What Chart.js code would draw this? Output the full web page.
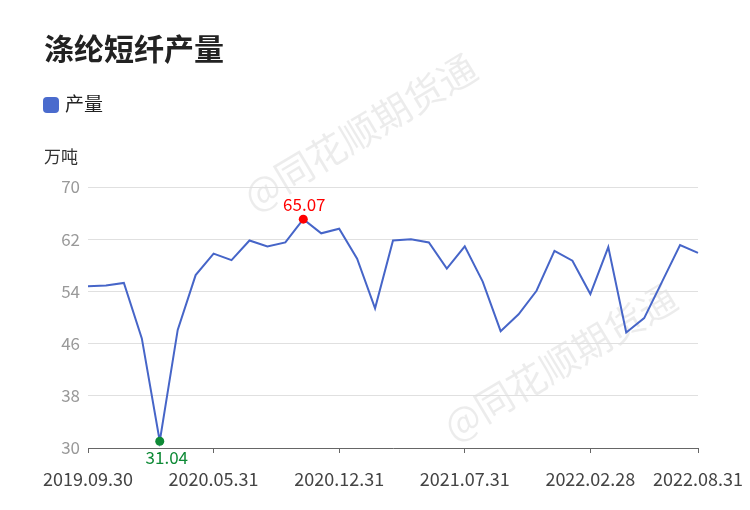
<!DOCTYPE html>
<html>
<head>
<meta charset="utf-8">
<script src="https://cdn.jsdelivr.net/npm/chart.js@4"></script>
<style>
  body { margin: 0; background: #fff; font-family: "Noto Sans CJK SC", "Noto Sans", sans-serif; }
  #wrap { position: relative; width: 750px; height: 510px; }
  #myChart { position: absolute; left: 0; top: 0; }
  .title { position: absolute; left: 44px; top: 27px; font-size: 30px; font-weight: bold; color: #222; line-height: 40px; }
  .legend { position: absolute; left: 43px; top: 90px; font-size: 19px; color: #222; line-height: 26px; }
  .legend i { display: inline-block; width: 16px; height: 16px; border-radius: 4px; background: #4a6bcd; vertical-align: -2px; margin-right: 6px; }
  .unit { position: absolute; left: 44px; top: 144px; font-size: 17px; color: #333; line-height: 24px; }
</style>
</head>
<body>
<div id="wrap">
  <canvas id="myChart" width="750" height="510"></canvas>
  <div class="title">涤纶短纤产量</div>
  <div class="legend"><i></i>产量</div>
  <div class="unit">万吨</div>
</div>
<script>
// months (2020.01 is merged into 2020.02)
const dates = [
  '2019.09.30','2019.10.31','2019.11.30','2019.12.31',
  '2020.02.29','2020.03.31','2020.04.30','2020.05.31','2020.06.30','2020.07.31','2020.08.31',
  '2020.09.30','2020.10.31','2020.11.30','2020.12.31',
  '2021.01.31','2021.02.28','2021.03.31','2021.04.30','2021.05.31','2021.06.30','2021.07.31',
  '2021.08.31','2021.09.30','2021.10.31','2021.11.30','2021.12.31',
  '2022.01.31','2022.02.28','2022.03.31','2022.04.30','2022.05.31','2022.06.30','2022.07.31','2022.08.31'
];
const output = [
  54.8, 54.9, 55.3, 46.8,
  31.04, 48.1, 56.5, 59.8, 58.8, 61.8, 60.9,
  61.5, 65.07, 62.9, 63.6,
  59.0, 51.4, 61.8, 62.0, 61.5, 57.5, 60.9,
  55.5, 47.9, 50.5, 54.1, 60.2,
  58.7, 53.6, 60.8, 47.7, 49.9, 55.5, 61.1, 59.9
];
const shownTicks = [0, 7, 14, 21, 28, 34];
const yTicks = [30, 38, 46, 54, 62, 70];

const maxIdx = output.indexOf(Math.max(...output));
const minIdx = output.indexOf(Math.min(...output));
const lineColor = 'rgb(70,101,200)';
const maxColor = '#ff0000';
const minColor = '#0e8a36';

const watermark = {
  id: 'watermark',
  beforeDraw(chart) {
    const ctx = chart.ctx;
    ctx.save();
    ctx.fillStyle = 'rgba(0,0,0,0.075)';
    ctx.font = '38px "Noto Sans CJK SC"';
    ctx.textAlign = 'center';
    ctx.textBaseline = 'middle';
    [[360, 132], [560, 362]].forEach(([x, y]) => {
      ctx.save();
      ctx.translate(x, y);
      ctx.rotate(-31 * Math.PI / 180);
      ctx.fillText('@同花顺期货通', 0, 0);
      ctx.restore();
    });
    ctx.restore();
  }
};

const extremeLabels = {
  id: 'extremeLabels',
  afterDatasetsDraw(chart) {
    const ctx = chart.ctx;
    const pts = chart.getDatasetMeta(0).data;
    ctx.save();
    ctx.font = '17px "Noto Sans CJK SC"';
    ctx.textAlign = 'center';
    ctx.textBaseline = 'middle';
    ctx.fillStyle = maxColor;
    ctx.fillText(output[maxIdx].toFixed(2), pts[maxIdx].x + 1, pts[maxIdx].y - 15);
    ctx.fillStyle = minColor;
    ctx.fillText(output[minIdx].toFixed(2), pts[minIdx].x + 7, pts[minIdx].y + 16);
    ctx.restore();
  }
};

const chart = new Chart('myChart', {
  type: 'line',
  data: {
    labels: dates,
    datasets: [{
      label: '产量',
      data: output,
      borderColor: lineColor,
      backgroundColor: lineColor,
      borderWidth: 2,
      tension: 0,
      pointRadius: (c) => (c.dataIndex === maxIdx || c.dataIndex === minIdx) ? 4.5 : 0,
      pointHoverRadius: 0,
      pointBorderWidth: 0,
      pointBackgroundColor: (c) => c.dataIndex === maxIdx ? maxColor : minColor
    }]
  },
  options: {
    responsive: false,
    animation: false,
    layout: { padding: { left: 0, right: 52, top: 187, bottom: 0 } },
    plugins: {
      legend: { display: false },
      title: { display: false },
      tooltip: { enabled: false }
    },
    scales: {
      x: {
        offset: false,
        border: { display: true, color: '#666', width: 1 },
        grid: {
          drawOnChartArea: false,
          drawTicks: true,
          tickLength: 5,
          color: (c) => shownTicks.includes(c.index) ? '#666' : 'rgba(0,0,0,0)'
        },
        ticks: {
          autoSkip: false,
          maxRotation: 0,
          padding: 15,
          color: '#444',
          font: { size: 18, family: '"Noto Sans CJK SC"' },
          callback: (v, i) => shownTicks.includes(i) ? dates[i] : ''
        },
        afterFit: (s) => { s.height = 62; s.paddingLeft = 0; s.paddingRight = 0; }
      },
      y: {
        min: 30,
        max: 70,
        afterBuildTicks: (s) => { s.ticks = yTicks.map(v => ({ value: v })); },
        border: { display: false },
        grid: { color: '#e0e0e0', drawTicks: false },
        ticks: {
          padding: 8,
          color: '#999',
          font: { size: 17, family: '"Noto Sans CJK SC"' }
        },
        afterFit: (s) => { s.width = 88; s.paddingTop = 0; s.paddingBottom = 0; }
      }
    }
  },
  plugins: [watermark, extremeLabels]
});
</script>
</body>
</html>
